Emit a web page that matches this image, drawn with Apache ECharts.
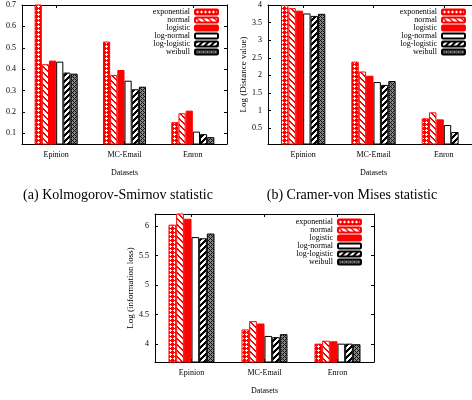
<!DOCTYPE html>
<html>
<head>
<meta charset="utf-8">
<script src="https://cdn.jsdelivr.net/npm/echarts@6/dist/echarts.min.js"></script>
<style>
  html, body { margin: 0; padding: 0; background: #fff; }
  #chart { width: 472px; height: 400px; }
</style>
</head>
<body>
<div id="chart"></div>
<script>
// datasets and fitted distributions
const categories = ['Epinion', 'MC-Email', 'Enron'];
const distNames = ['exponential', 'normal', 'logistic', 'log-normal', 'log-logistic', 'weibull'];

// (a) Kolmogorov-Smirnov statistic, one row per distribution
const ksValues = [
  [0.72, 0.529, 0.152],
  [0.423, 0.373, 0.194],
  [0.44, 0.396, 0.206],
  [0.435, 0.346, 0.108],
  [0.384, 0.306, 0.096],
  [0.379, 0.318, 0.082]
];
// (b) Cramer-von Mises statistic (log)
const cvmValues = [
  [4.0, 2.39, 0.78],
  [3.91, 2.11, 0.95],
  [3.84, 1.99, 0.75],
  [3.76, 1.81, 0.59],
  [3.69, 1.73, 0.39],
  [3.75, 1.84, 0.04]
];
// (c) information loss (log)
const infoValues = [
  [6.02, 4.25, 4.01],
  [6.22, 4.39, 4.06],
  [6.12, 4.35, 4.05],
  [5.81, 4.14, 4.01],
  [5.79, 4.12, 4.01],
  [5.87, 4.17, 4.0]
];

const captions = ['(a) Kolmogorov-Smirnov statistic', '(b) Cramer-von Mises statistic'];

// small pixel tiles used as bar fills
function tile(n, fn) {
  const c = document.createElement('canvas');
  c.width = c.height = n;
  const g = c.getContext('2d');
  for (let y = 0; y < n; y++) {
    for (let x = 0; x < n; x++) {
      g.fillStyle = fn(x, y);
      g.fillRect(x, y, 1, 1);
    }
  }
  return { image: c, repeat: 'repeat' };
}

const RED = '#ff0000';
const styles = [
  { color: tile(4, (x, y) => ((x === 2 && y >= 1 && y <= 3) || (y === 2 && x >= 1 && x <= 3)) ? '#fff' : RED), borderColor: RED },
  { color: tile(6, (x, y) => ((x - y + 6) % 6 < 2) ? RED : '#fff'), borderColor: RED },
  { color: RED, borderColor: RED },
  { color: '#fff', borderColor: '#000' },
  { color: tile(6, (x, y) => ((x + y) % 6 < 3) ? '#000' : '#fff'), borderColor: '#000' },
  { color: tile(4, (x, y) => ((x + y) % 4 === 0 || (x - y + 4) % 4 === 0) ? '#111' : '#888'), borderColor: '#000' }
];

const serif = 'Liberation Serif';

const grids = [
  { left: 22, top: 5, width: 205, height: 139, outerBoundsMode: 'none' },
  { left: 268, top: 5, width: 211, height: 139, outerBoundsMode: 'none' },
  { left: 155, top: 214, width: 219, height: 148, outerBoundsMode: 'none' }
];
const yRanges = [
  { min: 0.05, max: 0.7, step: 0.1, name: 'Distance value', gap: 23 },
  { min: 0.05, max: 4, step: 0.5, name: 'Log (Distance value)', gap: 19 },
  { min: 3.7, max: 6.2, step: 0.5, name: 'Log (information loss)', gap: 19 }
];

const xAxis = [];
const yAxis = [];
grids.forEach((g, i) => {
  const line = { show: true, lineStyle: { color: '#000', width: 1 } };
  xAxis.push({
    type: 'category', gridIndex: i, data: categories, position: 'bottom',
    axisLine: line,
    axisTick: { show: true, inside: true, alignWithLabel: true, length: 3, lineStyle: { color: '#000' } },
    axisLabel: { fontFamily: serif, fontSize: 8, color: '#000', margin: 7 },
    name: 'Datasets', nameLocation: 'middle', nameGap: 25,
    nameTextStyle: { fontFamily: serif, fontSize: 8, color: '#000' }
  });
  xAxis.push({
    type: 'category', gridIndex: i, data: categories, position: 'top',
    axisLine: line,
    axisTick: { show: true, inside: true, alignWithLabel: true, length: 3, lineStyle: { color: '#000' } },
    axisLabel: { show: false }
  });
  const r = yRanges[i];
  yAxis.push({
    type: 'value', gridIndex: i, position: 'left',
    min: r.min, max: r.max, minInterval: r.step, maxInterval: r.step,
    splitLine: { show: false },
    axisLine: line,
    axisTick: { show: true, inside: true, length: 3, lineStyle: { color: '#000' } },
    axisLabel: { fontFamily: serif, fontSize: 8, color: '#000', margin: 6, showMinLabel: false, showMaxLabel: i !== 2 },
    name: r.name, nameLocation: 'middle', nameGap: r.gap,
    nameTextStyle: { fontFamily: serif, fontSize: 9, color: '#000' }
  });
  yAxis.push({
    type: 'value', gridIndex: i, position: 'right',
    min: r.min, max: r.max, minInterval: r.step, maxInterval: r.step,
    splitLine: { show: false },
    axisLine: line,
    axisTick: { show: true, inside: true, length: 3, lineStyle: { color: '#000' } },
    axisLabel: { show: false }
  });
});

const tables = [ksValues, cvmValues, infoValues];
const series = [];
tables.forEach((table, gi) => {
  distNames.forEach((name, di) => {
    series.push({
      name: name,
      type: 'bar',
      xAxisIndex: gi * 2,
      yAxisIndex: gi * 2,
      data: table[di],
      barGap: '0%',
      barCategoryGap: '37%',
      itemStyle: { color: styles[di].color, borderColor: styles[di].borderColor, borderWidth: 1 },
      emphasis: { disabled: true },
      animation: false
    });
  });
});

const legendBase = {
  orient: 'vertical', align: 'right', itemWidth: 23, itemHeight: 5, itemGap: 0, padding: 0,
  data: distNames, selectedMode: false,
  textStyle: { fontFamily: serif, fontSize: 8, color: '#000', lineHeight: 8 }
};

const chart = echarts.init(document.getElementById('chart'));
chart.setOption({
  animation: false,
  grid: grids,
  xAxis: xAxis,
  yAxis: yAxis,
  legend: [
    Object.assign({}, legendBase, { right: 253, top: 8 }),
    Object.assign({}, legendBase, { right: 6, top: 8 }),
    Object.assign({}, legendBase, { right: 110, top: 218 })
  ],
  title: [
    { text: captions[0], left: 113, top: 183, textAlign: 'center', textStyle: { fontFamily: serif, fontSize: 14, fontWeight: 'normal', color: '#000' } },
    { text: captions[1], left: 347, top: 183, textAlign: 'center', textStyle: { fontFamily: serif, fontSize: 14, fontWeight: 'normal', color: '#000' } }
  ],
  series: series
});
</script>
</body>
</html>
